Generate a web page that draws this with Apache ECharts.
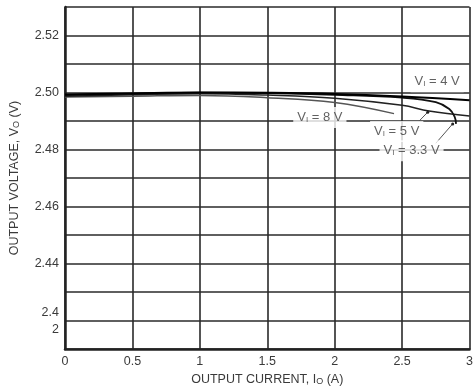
<!DOCTYPE html>
<html>
<head>
<meta charset="utf-8">
<script src="https://cdn.jsdelivr.net/npm/echarts@6/dist/echarts.min.js"></script>
<style>
html, body { margin: 0; padding: 0; background: #fff; }
#divChart { width: 476px; height: 391px; }
</style>
</head>
<body>
<div id="divChart"></div>
<script>
// data
var yTicks = [2.42, 2.44, 2.46, 2.48, 2.50, 2.52];

var vi4 = [[0, 2.4993], [0.5, 2.4997], [1, 2.5000], [1.5, 2.4999], [2, 2.4995], [2.5, 2.4986], [3, 2.4973]];
var vi5 = [[0, 2.4987], [0.5, 2.4992], [1, 2.4996], [1.5, 2.4991], [2, 2.4980], [2.5, 2.4955], [2.7, 2.4935], [3, 2.4918]];
var vi33 = [[0, 2.4991], [0.5, 2.4996], [1, 2.5000], [1.5, 2.4998], [2, 2.4992], [2.5, 2.4982], [2.75, 2.4966], [2.85, 2.4942], [2.89, 2.4915], [2.9, 2.4890]];
var vi8 = [[0, 2.4984], [0.5, 2.4987], [1, 2.4990], [1.5, 2.4982], [2, 2.4965], [2.44, 2.4926]];

// label anchors (data coords) and leader lines
var labels = [
  { v: '8', x: 1.89, y: 2.4912 },
  { v: '4', x: 2.76, y: 2.5038 },
  { v: '5', x: 2.46, y: 2.4863 },
  { v: '3.3', x: 2.57, y: 2.4796 }
];
var leader5 = [[2.62, 2.4897], [2.69, 2.4931]];
var leader33 = [[2.75, 2.4822], [2.875, 2.4890]];

var textColor = '#3a3a3a';
var fontFam = '"Liberation Sans", Arial, sans-serif';
var fs = 12.5;

function lineSeries(name, data, color, width) {
  return {
    name: name, type: 'line', data: data, smooth: 0.4, symbol: 'none',
    lineStyle: { color: color, width: width }, z: 3
  };
}

function leaderSeries(data) {
  return {
    type: 'line', silent: true, z: 4, symbol: 'circle', symbolSize: 3,
    data: [{ value: data[0], symbol: 'none' }, { value: data[1] }],
    itemStyle: { color: '#222' },
    lineStyle: { color: '#555', width: 1 }
  };
}

var nameRich = {
  s: { fontSize: fs, color: textColor, fontFamily: fontFam },
  sub: { fontSize: 9, color: textColor, fontFamily: fontFam, verticalAlign: 'bottom', padding: [3, 0, 0, 0] }
};

var option = {
  backgroundColor: '#fff',
  animation: false,
  grid: { left: 63, right: -1, top: 7, bottom: 41 },
  xAxis: {
    type: 'value', min: 0, max: 3, interval: 0.5,
    name: '{s|OUTPUT CURRENT, I}{sub|O}{s| (A)}',
    nameLocation: 'middle', nameGap: 21,
    nameTextStyle: { color: textColor, fontSize: fs, fontFamily: fontFam, rich: nameRich },
    axisLine: { show: true, lineStyle: { color: '#222', width: 2.5 } },
    axisTick: { show: false },
    axisLabel: { color: textColor, fontSize: fs, fontFamily: fontFam, margin: 6,
      formatter: function (v) { return String(v); } },
    splitLine: { show: true, lineStyle: { color: '#2a2a2a', width: 1.6 } }
  },
  yAxis: {
    type: 'value', min: 2.41, max: 2.53, interval: 0.01,
    name: '{s|OUTPUT VOLTAGE, V}{sub|O}{s| (V)}',
    nameLocation: 'middle', nameGap: 44, nameRotate: 90,
    nameTextStyle: { color: textColor, fontSize: fs, fontFamily: fontFam, rich: nameRich },
    axisLine: { show: true, lineStyle: { color: '#222', width: 2.5 } },
    axisTick: { show: false },
    axisLabel: {
      color: textColor, fontSize: fs, fontFamily: fontFam, margin: 6, lineHeight: 17,
      formatter: function (v) {
        var r = Math.round(v * 100) / 100;
        for (var i = 0; i < yTicks.length; i++) {
          if (Math.abs(yTicks[i] - r) < 1e-6) {
            if (i === 0) return '2.4\n2';
            return r.toFixed(2);
          }
        }
        return '';
      }
    },
    splitLine: { show: true, lineStyle: { color: '#2a2a2a', width: 1.6 } }
  },
  series: [
    lineSeries('Vi = 8 V', vi8, '#555', 1.5),
    lineSeries('Vi = 5 V', vi5, '#222', 1.5),
    lineSeries('Vi = 3.3 V', vi33, '#111', 1.8),
    lineSeries('Vi = 4 V', vi4, '#000', 2),
    leaderSeries(leader5),
    leaderSeries(leader33),
    {
      type: 'scatter', symbolSize: 0, silent: true, z: 10,
      data: labels.map(function (l) { return { value: [l.x, l.y], v: l.v }; }),
      label: {
        show: true, position: 'inside',
        formatter: function (p) { return '{a|V}{sub|I}{a| = ' + p.data.v + ' V}'; },
        backgroundColor: '#fff', padding: [4, 4, 4, 4],
        rich: {
          a: { fontSize: 13, color: textColor, fontFamily: fontFam },
          sub: { fontSize: 8, color: textColor, fontFamily: fontFam, verticalAlign: 'bottom', padding: [4, 0, 0, 0] }
        }
      }
    }
  ]
};

var divChart = echarts.init(document.getElementById('divChart'));
divChart.setOption(option);
</script>
</body>
</html>
